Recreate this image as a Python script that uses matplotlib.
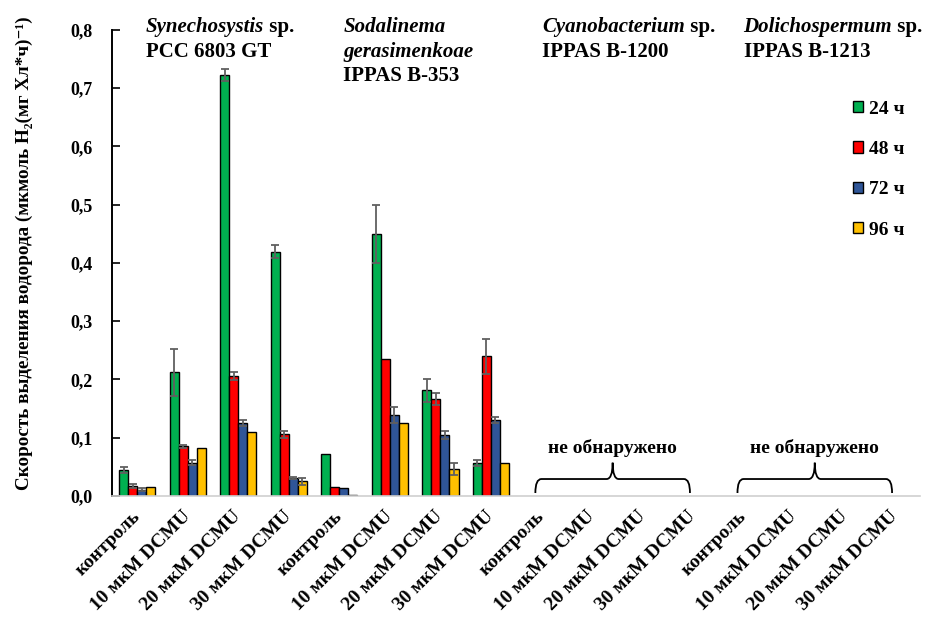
import matplotlib
matplotlib.use("Agg")
import matplotlib.pyplot as plt
import numpy as np
from matplotlib.patches import Patch, PathPatch
from matplotlib.path import Path

plt.rcParams["font.family"] = ["Liberation Serif", "DejaVu Serif"]
plt.rcParams["font.weight"] = "bold"
plt.rcParams["axes.labelweight"] = "bold"

conditions = ["контроль", "10 мкМ DCMU", "20 мкМ DCMU", "30 мкМ DCMU"] * 4
strains = [
    (["Synechosystis"], " sp.", "PCC 6803 GT"),
    (["Sodalinema", "gerasimenkoae"], "", "IPPAS B-353"),
    (["Cyanobacterium"], " sp.", "IPPAS B-1200"),
    (["Dolichospermum"], " sp.", "IPPAS B-1213"),
]
hours = ["24 ч", "48 ч", "72 ч", "96 ч"]

rate_24 = [0.045, 0.212, 0.723, 0.419, 0.072, 0.450, 0.181, 0.057, 0, 0, 0, 0, 0, 0, 0, 0]
err_24 = [0.005, 0.040, 0.010, 0.011, 0, 0.050, 0.019, 0.005, 0, 0, 0, 0, 0, 0, 0, 0]
rate_48 = [0.017, 0.085, 0.206, 0.106, 0.016, 0.235, 0.166, 0.240, 0, 0, 0, 0, 0, 0, 0, 0]
err_48 = [0.003, 0.003, 0.007, 0.006, 0, 0, 0.010, 0.030, 0, 0, 0, 0, 0, 0, 0, 0]
rate_72 = [0.011, 0.057, 0.125, 0.031, 0.013, 0.139, 0.105, 0.130, 0, 0, 0, 0, 0, 0, 0, 0]
err_72 = [0.002, 0.004, 0.005, 0.002, 0, 0.013, 0.007, 0.005, 0, 0, 0, 0, 0, 0, 0, 0]
rate_96 = [0.016, 0.082, 0.109, 0.025, 0.002, 0.126, 0.046, 0.056, 0, 0, 0, 0, 0, 0, 0, 0]
err_96 = [0, 0, 0, 0.006, 0, 0, 0.010, 0, 0, 0, 0, 0, 0, 0, 0, 0]

colors = ["#00B050", "#FF0000", "#2F5597", "#FFC000"]
not_found_groups = [(8, 11), (12, 15)]


def draw_brace(ax, x0, x1, y_end, y_mid, y_tip, dx=0.12):
    xm = (x0 + x1) / 2
    verts = [
        (x0, y_end), (x0, y_mid), (x0 + dx, y_mid),
        (xm - dx, y_mid), (xm, y_mid), (xm, y_tip),
        (xm, y_mid), (xm + dx, y_mid),
        (x1 - dx, y_mid), (x1, y_mid), (x1, y_end),
    ]
    codes = [
        Path.MOVETO, Path.CURVE3, Path.CURVE3,
        Path.LINETO, Path.CURVE3, Path.CURVE3,
        Path.CURVE3, Path.CURVE3,
        Path.LINETO, Path.CURVE3, Path.CURVE3,
    ]
    ax.add_patch(PathPatch(Path(verts, codes), facecolor="none", edgecolor="black", linewidth=1.3))


fig = plt.figure(figsize=(9.25, 6.23), dpi=100)
ax = fig.add_axes([0.121, 0.204, 0.874, 0.748])

x = np.arange(len(conditions))
width = 0.18
series = [(rate_24, err_24), (rate_48, err_48), (rate_72, err_72), (rate_96, err_96)]
for i, ((vals, errs), color) in enumerate(zip(series, colors)):
    pos = x + (i - 1.5) * width
    lw = [1.0 if v > 0 else 0 for v in vals]
    ax.bar(pos, vals, width, color=color, edgecolor="black", linewidth=lw, zorder=2)
    mask = np.array(errs) > 0
    ax.errorbar(pos[mask], np.array(vals)[mask], yerr=np.array(errs)[mask], fmt="none",
                ecolor="#606060", elinewidth=1.3, capsize=3, capthick=1.3, zorder=3)

ax.set_xlim(-0.5, len(conditions) - 0.5)
ax.set_ylim(0, 0.8)
ax.set_yticks(np.arange(0, 0.81, 0.1))
ax.set_yticklabels([f"{v:.1f}".replace(".", ",") for v in np.arange(0, 0.81, 0.1)], fontsize=13)
ax.tick_params(axis="y", direction="in", length=6, width=1.2, pad=14)
ax.set_xticks(x)
ax.set_xticklabels(conditions, rotation=45, ha="right", va="center", rotation_mode="anchor", fontsize=14)
ax.tick_params(axis="x", length=0, pad=13)

for side in ("top", "right"):
    ax.spines[side].set_visible(False)
ax.spines["left"].set_linewidth(1.4)
ax.spines["bottom"].set_color("#d0d0d0")
ax.spines["bottom"].set_linewidth(1.2)

ax.set_ylabel("Скорость выделения водорода (мкмоль H₂(мг Хл*ч)⁻¹)", fontsize=13.8)
ax.yaxis.set_label_coords(-0.098, 0.52)

# strain captions above each block of four conditions
title_x = [0.17, 4.08, 8.02, 12.0]
line_step = 0.042
for (name_lines, suffix, code), tx in zip(strains, title_x):
    y = 0.822
    for k, part in enumerate(name_lines):
        t = ax.text(tx, y, part, style="italic", fontsize=15, va="top", ha="left")
        if suffix and k == len(name_lines) - 1:
            ax.annotate(suffix, xy=(1, 0), xycoords=t, fontsize=15, va="bottom", ha="left")
        y -= line_step
    ax.text(tx, y, code, fontsize=15, va="top", ha="left")

for g0, g1 in not_found_groups:
    draw_brace(ax, g0 - 0.12, g1 - 0.06, 0.005, 0.029, 0.057)
    ax.text((g0 + g1) / 2 - 0.09, 0.082, "не обнаружено", ha="center", va="center", fontsize=14)

handles = [Patch(facecolor=c, edgecolor="black", linewidth=1.0) for c in colors]
ax.legend(handles, hours, loc="upper left", bbox_to_anchor=(0.895, 0.886), frameon=False,
          fontsize=14, handlelength=0.5, handleheight=0.5, handletextpad=0.3, labelspacing=1.2)

fig.savefig("out.png", dpi=100)
